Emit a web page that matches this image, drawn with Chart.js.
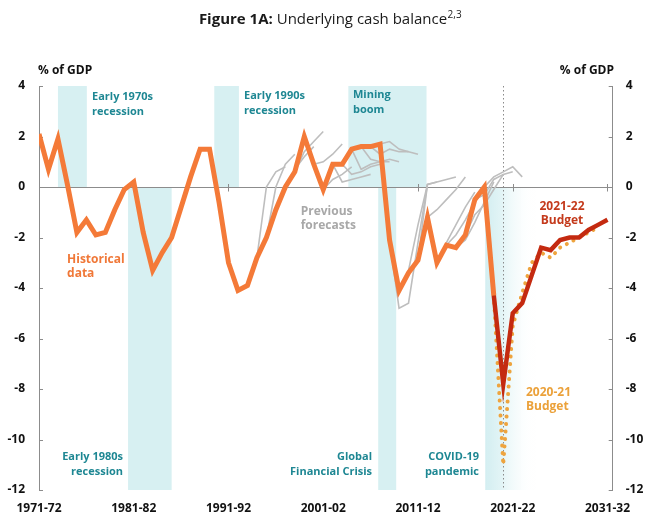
<!DOCTYPE html>
<html>
<head>
<meta charset="utf-8">
<script src="https://cdn.jsdelivr.net/npm/chart.js@4.4.0/dist/chart.umd.min.js"></script>
<style>
html,body{margin:0;padding:0;background:#fff;}
#wrap{width:650px;height:530px;position:relative;}
</style>
</head>
<body>
<div id="wrap"><canvas id="c" width="650" height="530"></canvas></div>
<script>
// ---------- DATA ----------
const years = [];
for (let y = 1971; y <= 2031; y++) years.push(y + '-' + String((y + 1) % 100).padStart(2, '0'));
const xTickLabels = ['1971-72', '1981-82', '1991-92', '2001-02', '2011-12', '2021-22', '2031-32'];
const yTicks = [4, 2, 0, -2, -4, -6, -8, -10, -12];

// Historical underlying cash balance, % of GDP, 1971-72 to 2019-20
const historical = [
  2.1, 0.7, 1.9, 0.1, -1.8, -1.3, -1.9, -1.8, -0.9, -0.1,
  0.2, -1.8, -3.3, -2.6, -2.0, -0.8, 0.4, 1.5, 1.5, -0.6,
  -3.0, -4.1, -3.9, -2.8, -2.0, -0.9, 0.0, 0.6, 2.0, 0.9,
  -0.1, 0.9, 0.9, 1.5, 1.6, 1.6, 1.7, -2.1, -4.1, -3.4,
  -2.9, -1.2, -3.0, -2.3, -2.4, -1.9, -0.5, 0.0, -4.3
];
// 2021-22 Budget, 2019-20 to 2031-32
const budget2122Start = '2019-20';
const budget2122 = [-4.3, -7.8, -5.0, -4.6, -3.5, -2.4, -2.5, -2.1, -2.0, -2.0, -1.7, -1.5, -1.3];
// 2020-21 Budget, 2019-20 to 2030-31
const budget2021Start = '2019-20';
const budget2021 = [-4.3, -11.0, -5.5, -4.2, -3.0, -2.6, -2.8, -2.4, -2.2, -2.0, -1.8, -1.6];

// Previous budget forecasts
const forecastStarts = [
  '1994-95', '1995-96', '1997-98', '1998-99', '2000-01', '2001-02', '2002-03', '2003-04',
  '2004-05', '2005-06', '2006-07', '2007-08', '2008-09', '2009-10', '2011-12', '2012-13',
  '2013-14', '2014-15', '2015-16', '2016-17', '2017-18', '2018-19'
];
const forecastValues = [
  [-2.8, 0.0, 0.6, 0.8],
  [-2.0, 0.0, 0.9, 1.3],
  [0.0, 0.7, 1.2, 1.6],
  [0.6, 1.4, 1.8, 2.2],
  [0.9, 1.0, 1.3, 1.7],
  [-0.1, 0.3, 0.5, 0.8],
  [0.9, 0.2, 0.3, 0.4, 0.5],
  [0.9, 0.5, 0.6, 0.8, 0.9],
  [1.5, 0.7, 0.9, 1.0, 1.0],
  [1.6, 1.1, 1.0, 1.1, 1.0],
  [1.6, 1.3, 1.5, 1.4, 1.4],
  [1.7, 1.8, 1.5, 1.4, 1.3],
  [-2.1, -4.8, -4.6, -2.2, 0.1],
  [-4.1, -3.3, -1.5, 0.1, 0.2],
  [-2.9, 0.1, 0.2, 0.3, 0.4],
  [-1.2, -0.9, -0.5, -0.1, 0.4],
  [-3.0, -2.2, -1.5, -0.8, -0.2],
  [-2.3, -1.9, -1.3, -0.6, 0.0],
  [-2.4, -2.1, -1.4, -0.6, 0.2],
  [-1.9, -1.1, -0.7, -0.1, 0.5],
  [-0.5, -0.3, 0.3, 0.5, 0.6],
  [0.0, 0.4, 0.6, 0.8, 0.4]
];

// Shaded periods (fractional fiscal years, start year of fiscal year)
const periodNames = [['Early 1970s', 'recession'], ['Early 1980s', 'recession'], ['Early 1990s', 'recession'],
  ['Mining', 'boom'], ['Global', 'Financial Crisis'], ['COVID-19', 'pandemic']];
const periodFrom = [1973.0, 1980.4, 1989.5, 2003.65, 2006.8, 2018.1];
const periodTo = [1976.05, 1985.0, 1992.1, 2011.9, 2008.7, 2023.5];
const periodAbove = [true, false, true, true, false, false];
const announcementYear = '2020-21';

// ---------- BUILD ----------
const idx = s => years.indexOf(s);
const toPts = (arr, start) => arr.map((v, i) => ({ x: start + i, y: v }));

const FONT = "'Open Sans', 'Noto Sans', sans-serif";
const datasets = [];
datasets.push({ label: '2021-22 Budget', data: toPts(budget2122, idx(budget2122Start)), borderColor: '#C42A10', borderWidth: 4.5, pointRadius: 0, tension: 0 });
datasets.push({ label: 'Historical data', data: toPts(historical, 0), borderColor: '#F47A38', borderWidth: 5, pointRadius: 0, tension: 0 });
datasets.push({ label: '2020-21 Budget', data: toPts(budget2021, idx(budget2021Start)), borderColor: '#EEA43E', borderWidth: 4, borderDash: [0.01, 7.5], borderCapStyle: 'round', pointRadius: 0, tension: 0 });
forecastStarts.forEach((s, k) => {
  datasets.push({ label: 'Forecast ' + s, data: toPts(forecastValues[k], idx(s)), borderColor: '#BEBEBE', borderWidth: 1.6, pointRadius: 0, tension: 0 });
});

const annotations = [
  { lines: periodNames[0], x: 5.6, y: 3.56, align: 'left', color: '#1E8793', size: 11, lh: 14.5 },
  { lines: periodNames[2], x: 21.64, y: 3.6, align: 'left', color: '#1E8793', size: 11, lh: 14.5 },
  { lines: periodNames[3], x: 33.14, y: 3.64, align: 'left', color: '#1E8793', size: 11, lh: 14.5 },
  { lines: periodNames[1], x: 8.87, y: -10.69, align: 'right', color: '#1E8793', size: 11, lh: 14.5 },
  { lines: periodNames[4], x: 35.15, y: -10.69, align: 'right', color: '#1E8793', size: 11, lh: 14.5 },
  { lines: periodNames[5], x: 46.44, y: -10.69, align: 'right', color: '#1E8793', size: 11, lh: 14.5 },
  { lines: ['Historical', 'data'], x: 2.96, y: -2.89, align: 'left', color: '#F07838', size: 12, lh: 14 },
  { lines: ['Previous', 'forecasts'], x: 27.62, y: -0.99, align: 'left', color: '#A8A8A8', size: 12, lh: 14 },
  { lines: ['2021-22', 'Budget'], x: 55.2, y: -0.79, align: 'center', color: '#C43A1C', size: 12, lh: 13.5 },
  { lines: ['2020-21', 'Budget'], x: 51.4, y: -8.13, align: 'left', color: '#EBA13A', size: 12, lh: 14 }
];

const decor = {
  id: 'decor',
  beforeDatasetsDraw(chart) {
    const { ctx, chartArea: a, scales: { x, y } } = chart;
    ctx.save();
    // shaded periods
    for (let k = 0; k < periodFrom.length; k++) {
      const x0 = x.getPixelForValue(periodFrom[k] - 1971);
      const x1 = x.getPixelForValue(periodTo[k] - 1971);
      const y0 = periodAbove[k] ? y.getPixelForValue(4) : y.getPixelForValue(0);
      const y1 = periodAbove[k] ? y.getPixelForValue(0) : y.getPixelForValue(-12);
      if (k === 5) {
        const g = ctx.createLinearGradient(x0, 0, x1, 0);
        g.addColorStop(0, 'rgba(211,238,241,1)');
        g.addColorStop(0.3, 'rgba(220,242,244,0.85)');
        g.addColorStop(1, 'rgba(255,255,255,0)');
        ctx.fillStyle = g;
      } else {
        ctx.fillStyle = '#D7F0F2';
      }
      ctx.fillRect(x0, y0, x1 - x0, y1 - y0);
    }
    // zero line
    const z = Math.round(y.getPixelForValue(0)) + 0.5;
    ctx.strokeStyle = '#8C8C8C';
    ctx.lineWidth = 1;
    ctx.beginPath(); ctx.moveTo(a.left, z); ctx.lineTo(a.right, z); ctx.stroke();
    // x tick marks on zero line
    xTickLabels.forEach(l => {
      const px = Math.round(x.getPixelForValue(idx(l))) + 0.5;
      ctx.beginPath(); ctx.moveTo(px, z - 3.5); ctx.lineTo(px, z + 4); ctx.stroke();
    });
    // y tick marks (inward)
    yTicks.forEach(v => {
      const py = Math.round(y.getPixelForValue(v)) + 0.5;
      ctx.beginPath(); ctx.moveTo(a.left, py); ctx.lineTo(a.left + 4, py); ctx.stroke();
      ctx.beginPath(); ctx.moveTo(a.right - 4, py); ctx.lineTo(a.right, py); ctx.stroke();
    });
    // announcement dotted line
    const dx = Math.round(x.getPixelForValue(idx(announcementYear))) + 0.5;
    ctx.strokeStyle = '#8A8A8A';
    ctx.setLineDash([1.5, 2.5]);
    ctx.beginPath(); ctx.moveTo(dx, a.top); ctx.lineTo(dx, a.bottom); ctx.stroke();
    ctx.setLineDash([]);
    ctx.restore();
  },
  afterDatasetsDraw(chart) {
    const { ctx, scales: { x, y } } = chart;
    ctx.save();
    ctx.textBaseline = 'middle';
    annotations.forEach(t => {
      ctx.font = 'bold ' + t.size + 'px ' + FONT;
      ctx.fillStyle = t.color;
      ctx.textAlign = t.align;
      const px = x.getPixelForValue(t.x);
      const py = y.getPixelForValue(t.y);
      t.lines.forEach((ln, i) => ctx.fillText(ln, px, py + i * t.lh));
    });
    ctx.restore();
  },
  afterDraw(chart) {
    const { ctx } = chart;
    ctx.save();
    ctx.textBaseline = 'middle';
    ctx.fillStyle = '#111';
    ctx.font = 'bold 12px ' + FONT;
    ctx.textAlign = 'left';
    ctx.fillText('% of GDP', 38, 71);
    ctx.textAlign = 'right';
    ctx.fillText('% of GDP', 614, 71);
    // title
    const p1 = 'Figure 1A:', p2 = ' Underlying cash balance', p3 = '2,3';
    ctx.textBaseline = 'alphabetic';
    ctx.textAlign = 'left';
    ctx.font = 'bold 15px ' + FONT; const w1 = ctx.measureText(p1).width;
    ctx.font = '15px ' + FONT; const w2 = ctx.measureText(p2).width;
    ctx.font = '10px ' + FONT; const w3 = ctx.measureText(p3).width;
    let sx = 330 - (w1 + w2 + w3) / 2;
    const by = 24;
    ctx.fillStyle = '#1a1a1a';
    ctx.font = 'bold 15px ' + FONT; ctx.fillText(p1, sx, by); sx += w1;
    ctx.font = '15px ' + FONT; ctx.fillText(p2, sx, by); sx += w2;
    ctx.font = '10px ' + FONT; ctx.fillText(p3, sx + 0.5, by - 6);
    ctx.restore();
  }
};

const tickFont = { family: FONT, size: 12, weight: 'bold' };

new Chart(document.getElementById('c'), {
  type: 'line',
  data: { datasets },
  options: {
    responsive: false,
    animation: false,
    devicePixelRatio: 1,
    layout: { padding: { top: 86, left: 0, right: 0, bottom: 0 } },
    plugins: { legend: { display: false }, tooltip: { enabled: false }, title: { display: false } },
    scales: {
      x: {
        type: 'linear', min: 0, max: 60.55,
        grid: { display: false, drawTicks: false }, border: { display: false },
        ticks: {
          stepSize: 10, includeBounds: false, maxRotation: 0, autoSkip: false,
          padding: 11, color: '#111', font: tickFont,
          callback: v => (xTickLabels.includes(years[v]) ? years[v] : '')
        },
        afterFit: s => { s.height = 40; }
      },
      y: {
        position: 'left', min: -12, max: 4,
        grid: { display: false, drawTicks: false }, border: { display: true, color: '#8C8C8C', width: 1 },
        ticks: { stepSize: 2, padding: 14, color: '#111', font: tickFont },
        afterFit: s => { s.width = 39; }
      },
      y2: {
        position: 'right', min: -12, max: 4,
        grid: { display: false, drawTicks: false }, border: { display: true, color: '#8C8C8C', width: 1 },
        ticks: { stepSize: 2, padding: 13, color: '#111', font: tickFont },
        afterFit: s => { s.width = 37.3; }
      }
    }
  },
  plugins: [decor]
});
</script>
</body>
</html>
